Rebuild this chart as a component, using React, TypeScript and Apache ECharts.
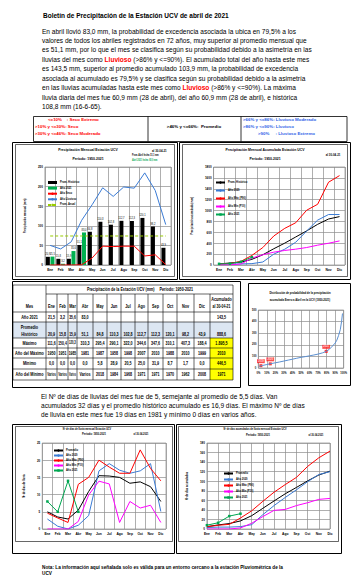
import React, { useEffect, useRef } from 'react';
import * as echarts from 'echarts';

const NARROW = "'Liberation Sans Narrow', 'Arial Narrow', 'Liberation Sans', sans-serif";
const SANS = "'Liberation Sans', Arial, Helvetica, sans-serif";

// ---------- data ----------
const months = ['Ene', 'Feb', 'Mar', 'Abr', 'May', 'Jun', 'Jul', 'Ago', 'Sep', 'Oct', 'Nov', 'Dic'];

// Chart A: monthly precipitation (mm)
const promHistorico = [20.9, 15.8, 15.9, 51.1, 84.8, 110.3, 102.8, 112.7, 112.3, 120.1, 98.2, 43.9];
const lluvia2021 = [21.5, 3.2, 35.6, 83.0];
const serieSecaA = [0, 0, 0, 0.5, 18, 48, 47, 48, 48, 23, 26, 1];
const serieLluviosaA = [50, 41, 59, 114, 154, 197, 175, 199, 196, 235, 190, 103];
const promAnualA = [74, 74, 74, 74, 74, 74, 74, 74, 74, 74, 74, 74];
const namesA = ['Prom. Histórico', 'Año 2021', 'Año Seco', 'Año Lluvioso', 'Prom. Anual'];

// Chart B: cumulative precipitation (mm)
const acumPromB = [20.9, 36.7, 52.6, 103.7, 188.5, 298.8, 401.6, 514.3, 626.6, 746.7, 844.9, 888.8];
const acum2020B = [18, 18, 20, 25, 55, 200, 290, 418, 624, 824, 927, 927];
const acumAltoB = [18, 30, 67, 176, 321, 533, 673, 776, 1006, 1115, 1521, 1642];
const acumBajoB = [0, 5, 18, 127, 188, 236, 267, 291, 321, 364, 400, 442];
const acum2021B = [21.5, 24.7, 60.3, 143.5];
const namesB = ['Prom. Histórico', 'Año 2020', 'Año Máx (P90)', 'Año Mín (P10)', 'Año 2021'];

// Chart C: rainy days per month
const diasPromC = [5.0, 3.5, 2.9, 5.5, 10.9, 15.5, 15.4, 15.0, 13.3, 13.7, 12.3, 8.0];
const dias2020C = [2.9, 0.8, 0, 1.1, 3.9, 16.9, 19, 17.1, 16.2, 16.9, 19, 5.1];
const diasAltoC = [4.6, 3.2, 1.9, 13, 15, 20, 18, 16.2, 16.2, 23, 17.6, 14];
const diasBajoC = [0, 0, 0, 2.2, 9.9, 13.9, 13.1, 1.9, 8, 6.1, 6.9, 1.9];
const dias2021C = [8, 5, 14, 5];
const namesC = ['Promedio', 'Año 2020', 'Año Máx (P90)', 'Año Mín (P10)', 'Año 2021'];

// Chart D: cumulative rainy days
const diasAcumPromD = [5, 8.5, 11.4, 16.9, 27.8, 43.3, 58.7, 73.7, 87, 100.7, 113, 121];
const diasAcum2020D = [3, 4, 4, 5, 9, 30, 49, 66, 82, 99, 114, 120];
const diasAcumAltoD = [4.6, 7.8, 9.7, 23, 38, 58, 77, 93, 108, 131, 149, 163];
const diasAcumBajoD = [0, 0, 0, 2.2, 12, 26, 39, 41, 49, 55, 62, 64];
const diasAcum2021D = [8, 13, 27, 32];
const namesD = ['Promedio', 'Año 2020', 'Año Máx (P90)', 'Año Mín (P10)', 'Año 2021'];

// Chart E: probability distribution, accumulated Jan-Apr
const probX = [1, 5, 10, 15, 20, 25, 30, 35, 40, 45, 50, 55, 60, 65, 70, 75, 79.5, 83, 87, 90, 92, 94, 96, 97.5, 98.6];
const probY = [15, 22, 30, 38, 45, 52, 60, 68, 76, 84, 92, 98, 105, 112, 120, 130, 143.5, 160, 190, 215, 240, 280, 330, 400, 470];
const puntosAnio = ['2019', '2020', '2021'];
const puntosX = [3, 14, 79.5];
const puntosY = [20, 36, 143.5];

// Table
const tabCols = ['Ene', 'Feb', 'Mar', 'Abr', 'May', 'Jun', 'Jul', 'Ago', 'Sep', 'Oct', 'Nov', 'Dic'];
const tabAnio2021 = ['21,5', '3,2', '35,6', '83,0', '', '', '', '', '', '', '', '', '143,5'];
const tabPromedio = ['20,9', '15,8', '15,9', '51,1', '84,8', '110,3', '102,8', '112,7', '112,3', '120,1', '98,2', '43,9', '888,6'];
const tabMaximo = ['111,6', '150,4', '120,3', '310,3', '295,4', '290,1', '322,0', '344,6', '347,6', '310,1', '407,3', '188,4', '1.895,5'];
const tabAnioMax = ['1950', '1951', '1985', '1981', '1987', '1958', '1998', '2007', '2010', '1988', '2010', '1999', '2010'];
const tabMinimo = ['0,0', '0,0', '0,0', '0,0', '5,8', '28,9', '20,5', '25,0', '31,9', '8,7', '1,7', '0,0', '446,5'];
const tabAnioMin = ['Varios', 'Varios', 'Varios', 'Varios', '2018', '1984', '1968', '1971', '1971', '1970', '1962', '2008', '1971'];

// Texts
const titulo = 'Boletín de Precipitación de la Estación UCV de abril de 2021';
const parrafo1 = [
  'En abril llovió 83,0 mm, la probabilidad de excedencia asociada la ubica en 79,5% a los',
  'valores de todos los abriles registrados en 72 años, muy superior al promedio mensual que',
  'es 51,1 mm, por lo que el mes se clasifica según su probabilidad debido a la asimetría en las',
  'lluvias del mes como {r|Lluvioso} (>86% y <=90%). El acumulado total del año hasta este mes',
  'es 143,5 mm, superior al promedio acumulado 103,9 mm, la probabilidad de excedencia',
  'asociada al acumulado es 79,5% y se clasifica según su probabilidad debido a la asimetría',
  'en las lluvias acumuladas hasta este mes como {r|Lluvioso} (>86% y <=90%). La máxima',
  'lluvia diaria del mes fue 60,9 mm (28 de abril), del año 60,9 mm (28 de abril), e histórica',
  '108,8 mm (16-6-65).',
];
const parrafo2 = [
  'El Nº de días de lluvias del mes fue de 5, semejante al promedio de 5,5 días. Van',
  'acumulados 32 días y el promedio histórico acumulado es 16,9 días. El máximo Nº de días',
  'de lluvia en este mes fue 19 días en 1981 y mínimo 0 días en varios años.',
];
const nota = [
  'Nota: La información aquí señalada solo es válida para un entorno cercano a la estación Pluviométrica de la',
  'UCV',
];
const clasifSeco = ['<=10%    : Seco Extremo', '>10% y <=30%: Seco', '>30% y <=46%: Seco Moderado'];
const clasifProm = '>46% y <=66%:  Promedio';
const clasifLluv = ['>66% y <=86%: Lluvioso Moderado', '>86% y <=90%: Lluvioso', '>90%     : Lluvioso Extremo'];

const fmt = (v: number) => v.toFixed(1).replace('.', ',');

// ---------- helpers ----------
const txt = (x: number, y: number, text: string, o: any = {}) => ({
  type: 'text',
  x,
  y,
  scaleX: o.sx ?? 1,
  silent: true,
  style: {
    text,
    fontSize: o.fs ?? 4.6,
    fontFamily: o.ff ?? NARROW,
    fontWeight: o.fw ?? 'bold',
    fill: o.fill ?? '#000',
    textAlign: o.align ?? 'center',
    textVerticalAlign: 'middle',
    rich: o.rich,
  },
});
// narrow (condensed) text
const ntxt = (x: number, y: number, text: string, o: any = {}) => txt(x, y, text, { sx: 0.8, ...o });
// text fitted inside a table cell of width w
const cell = (x: number, y: number, w: number, text: string, fs = 4.6) => {
  const est = text.length * fs * 0.56;
  const sx = Math.min(0.82, (w - 1.4) / est);
  return txt(x, y, text, { fs, sx });
};
const rect = (x: number, y: number, w: number, h: number, o: any = {}) => ({
  type: 'rect',
  silent: true,
  shape: { x, y, width: w, height: h },
  style: { fill: o.fill ?? 'none', stroke: o.stroke ?? '#000', lineWidth: o.lw ?? 1 },
});
const line = (x1: number, y1: number, x2: number, y2: number, lw = 0.6, color = '#000') => ({
  type: 'line',
  silent: true,
  shape: { x1, y1, x2, y2 },
  style: { stroke: color, lineWidth: lw },
});

const gridLine = { show: true, lineStyle: { color: '#8c8c8c', width: 0.7 } };
const gridBox = { show: true, borderColor: '#8c8c8c', borderWidth: 0.7 };
const catAxis = (boundaryGap = true) => ({
  type: 'category',
  data: months,
  boundaryGap,
  axisLine: { show: false },
  axisTick: { show: false },
  splitLine: { ...gridLine, interval: 0 },
  axisLabel: { interval: 0, fontSize: 3.3, fontWeight: 'bold', fontFamily: NARROW, color: '#000', margin: 3 },
});
const valAxis = (max: number, interval: number, name: string, nameGap: number) => ({
  type: 'value',
  min: 0,
  max,
  interval,
  axisLine: { show: false },
  axisTick: { show: false },
  splitLine: gridLine,
  axisLabel: { fontSize: 3, fontWeight: 'bold', fontFamily: NARROW, color: '#000', margin: 2, formatter: (v: number) => String(v) },
  name,
  nameLocation: 'middle',
  nameGap,
  nameTextStyle: { fontSize: 2.6, fontWeight: 'bold', fontFamily: NARROW, color: '#000' },
});
const legendStyle = (left: number, top: number, gap: number, data: any[]) => ({
  orient: 'vertical',
  left,
  top,
  padding: 0,
  itemWidth: 9,
  itemHeight: 3,
  itemGap: gap,
  selectedMode: false,
  textStyle: { fontSize: 2.6, fontWeight: 'bold', fontFamily: NARROW, color: '#000', padding: [0, 0, 0, -2] },
  data,
});
const lineSeries = (name: string, data: number[], color: string, extra: any = {}) => ({
  type: 'line',
  name,
  data,
  symbol: 'none',
  lineStyle: { color, width: 1 },
  itemStyle: { color },
  ...extra,
});
const green2021 = (name: string, data: number[]) =>
  lineSeries(name, data, '#00a651', { symbol: 'rect', symbolSize: 2.5, showSymbol: true });

// ---------- page (texts, boxes, table) ----------
function buildPage() {
  const g: any[] = [];
  g.push(txt(43, 15, titulo, { fs: 6.5, ff: SANS, align: 'left' }));
  parrafo1.forEach((l, i) =>
    g.push(
      txt(42, 31 + i * 9.45, l, {
        fs: 6.55,
        ff: SANS,
        fw: 'normal',
        align: 'left',
        rich: { r: { fill: '#ff0000', fontSize: 6.55, fontFamily: SANS, fontWeight: 'bold' } },
      })
    )
  );
  // classification box
  g.push(rect(33.5, 116.5, 313.5, 25, { lw: 0.8 }));
  g.push(line(148, 116.5, 148, 141.5, 0.8));
  g.push(line(241, 116.5, 241, 141.5, 0.8));
  const ry = [119.8, 126.5, 133.3];
  g.push(txt(48, ry[0], clasifSeco[0], { fs: 4.4, ff: SANS, fill: '#ff0000', align: 'left' }));
  g.push(txt(35, ry[1], clasifSeco[1], { fs: 4.4, ff: SANS, fill: '#ff0000', align: 'left' }));
  g.push(txt(35, ry[2], clasifSeco[2], { fs: 4.4, ff: SANS, fill: '#ff0000', align: 'left' }));
  g.push(txt(194, ry[1], clasifProm, { fs: 4.4, ff: SANS }));
  g.push(txt(243, ry[0], clasifLluv[0], { fs: 4.4, ff: SANS, fill: '#2f5fe8', align: 'left' }));
  g.push(txt(243, ry[1], clasifLluv[1], { fs: 4.4, ff: SANS, fill: '#2f5fe8', align: 'left' }));
  g.push(txt(258, ry[2], clasifLluv[2], { fs: 4.4, ff: SANS, fill: '#2f5fe8', align: 'left' }));

  // chart frames, top
  g.push(rect(12.5, 142.5, 165, 137));
  g.push(rect(15.5, 144.5, 159, 132, { lw: 0.6 }));
  g.push(rect(179.5, 142.5, 171, 137));
  g.push(rect(182.5, 144.5, 165, 132, { lw: 0.6 }));
  // table section frames
  g.push(rect(12.5, 281.5, 228, 106));
  g.push(rect(248.5, 283.5, 102, 102));
  // bottom frames
  g.push(rect(12.5, 424.5, 162, 129));
  g.push(rect(15.5, 426.5, 157, 115, { lw: 0.6 }));
  g.push(rect(176.5, 424.5, 165, 129));
  g.push(rect(178.5, 426.5, 160, 115, { lw: 0.6 }));

  // table
  const colX = [46, 57, 68, 77, 93, 107, 121, 135, 148, 163, 177, 194, 210, 233];
  const L = 13;
  const R = 233;
  g.push(rect(L, 322, R - L, 16, { fill: '#dce6f2', stroke: 'none', lw: 0 }));
  g.push(rect(210, 338, 23, 42, { fill: '#ffff00', stroke: 'none', lw: 0 }));
  [285, 312, 322, 338, 348, 358, 369, 380].forEach((y) => g.push(line(L, y, R, y)));
  g.push(line(46, 294, R, 294));
  g.push(line(L, 285, L, 380));
  g.push(line(46, 285, 46, 380));
  g.push(line(R, 285, R, 380));
  colX.slice(1, -1).forEach((x) => g.push(line(x, 294, x, 380)));
  g.push(ntxt(140, 289.7, 'Precipitación de la Estación UCV (mm)     Período: 1950-2021', { fs: 4.6 }));
  g.push(cell(29.5, 306, 33, 'Mes'));
  tabCols.forEach((m, i) => g.push(cell((colX[i] + colX[i + 1]) / 2, 306, colX[i + 1] - colX[i], m)));
  g.push(cell(221.5, 299, 23, 'Acumulado'));
  g.push(cell(221.5, 306, 23, 'al 30-04-21'));
  const rows = [
    { label: ['Año 2021'], ly: [317], vy: 317, vals: tabAnio2021 },
    { label: ['Promedio', 'Histórico'], ly: [327, 334], vy: 334, vals: tabPromedio },
    { label: ['Máximo'], ly: [343], vy: 343, vals: tabMaximo },
    { label: ['Año del Máximo'], ly: [353.2], vy: 353.2, vals: tabAnioMax },
    { label: ['Mínimo'], ly: [363.7], vy: 363.7, vals: tabMinimo },
    { label: ['Año del Mínimo'], ly: [374.6], vy: 374.6, vals: tabAnioMin },
  ];
  rows.forEach((r) => {
    r.label.forEach((t, k) => g.push(cell(29.5, r.ly[k], 33, t)));
    r.vals.forEach((v, i) => {
      if (v) g.push(cell((colX[i] + colX[i + 1]) / 2, r.vy, colX[i + 1] - colX[i], v, 4.5));
    });
  });

  parrafo2.forEach((l, i) => g.push(txt(41, 396 + i * 9.3, l, { fs: 6.55, ff: SANS, fw: 'normal', align: 'left' })));
  g.push(txt(42, 567, nota[0], { fs: 4.7, ff: SANS, align: 'left' }));
  g.push(txt(42, 573.5, nota[1], { fs: 4.7, ff: SANS, align: 'left' }));
  return { animation: false, graphic: g };
}

// ---------- charts ----------
const barLabel = { show: true, position: 'top', distance: 1, fontSize: 2.6, fontFamily: NARROW, color: '#000', formatter: (p: any) => fmt(p.value) };

const optA = {
  animation: false,
  grid: { left: 10, right: 3, top: 23, bottom: 11, ...gridBox },
  xAxis: catAxis(true),
  yAxis: valAxis(250, 50, 'Precipitación mensual (mm)', 6),
  legend: legendStyle(31, 37, 2.6, [
    { name: namesA[0], icon: 'rect' },
    { name: namesA[1], icon: 'rect' },
    namesA[2],
    namesA[3],
    namesA[4],
  ]),
  graphic: [
    ntxt(72, 5, 'Precipitación Mensual Estación UCV', { fs: 4.3 }),
    ntxt(72, 14, 'Período: 1950-2021', { fs: 4.3 }),
    ntxt(136, 7, 'al 30-04-21', { fs: 3.6, align: 'left' }),
    ntxt(116, 10.5, 'Prom. Abril fecha: 51,1 mm', { fs: 2.6, align: 'left' }),
    ntxt(116, 15.5, 'Abril 2021 fecha: 83,0 mm', { fs: 2.6, align: 'left', fill: '#00a651' }),
  ],
  series: [
    { type: 'bar', name: namesA[0], data: promHistorico, barWidth: 4, barGap: '15%', itemStyle: { color: '#000' }, label: barLabel },
    { type: 'bar', name: namesA[1], data: lluvia2021, barWidth: 4, itemStyle: { color: '#00b050' }, label: barLabel },
    lineSeries(namesA[2], serieSecaA, '#ff0000'),
    lineSeries(namesA[3], serieLluviosaA, '#3a7bd5'),
    lineSeries(namesA[4], promAnualA, '#99cc00', { lineStyle: { color: '#99cc00', width: 1, type: [3, 2] } }),
  ],
};

const optB = {
  animation: false,
  grid: { left: 11, right: 3, top: 23, bottom: 11, ...gridBox },
  xAxis: catAxis(true),
  yAxis: valAxis(1800, 200, 'Precipitación acumulada (mm)', 8),
  legend: legendStyle(32, 37, 5, namesB),
  graphic: [
    ntxt(82, 5, 'Precipitación Mensual Acumulada Estación UCV', { fs: 4.3 }),
    ntxt(82, 14, 'Período: 1950-2021', { fs: 4.3 }),
    ntxt(150, 11, 'al 30-04-21', { fs: 3.6 }),
  ],
  series: [
    lineSeries(namesB[0], acumPromB, '#000000'),
    lineSeries(namesB[1], acum2020B, '#3a7bd5'),
    lineSeries(namesB[2], acumAltoB, '#ff0000'),
    lineSeries(namesB[3], acumBajoB, '#ff00ff'),
    green2021(namesB[4], acum2021B),
  ],
};

const optC = {
  animation: false,
  grid: { left: 12, right: 6, top: 16, bottom: 12, ...gridBox },
  xAxis: catAxis(true),
  yAxis: valAxis(25, 5, 'Nº de días de lluvia', 6),
  legend: legendStyle(38, 22, 2, namesC),
  graphic: [
    ntxt(72, 2.3, 'Nº de días de lluvia mensual Estación UCV', { fs: 3 }),
    ntxt(79, 7.3, 'Período: 1950-2021', { fs: 3.3 }),
    ntxt(126, 7.3, 'al 30-04-2021', { fs: 3 }),
  ],
  series: [
    lineSeries(namesC[0], diasPromC, '#000000'),
    lineSeries(namesC[1], dias2020C, '#3a7bd5'),
    lineSeries(namesC[2], diasAltoC, '#ff0000'),
    lineSeries(namesC[3], diasBajoC, '#ff00ff'),
    green2021(namesC[4], dias2021C),
  ],
};

const optD = {
  animation: false,
  grid: { left: 17, right: 8, top: 16, bottom: 12, ...gridBox },
  xAxis: catAxis(false),
  yAxis: valAxis(180, 20, 'Nº de días acumulados', 8),
  legend: legendStyle(45, 45, 3, namesD),
  graphic: [
    ntxt(77, 2.3, 'Nº de días acumulados de lluvia mensual Estación UCV', { fs: 3 }),
    ntxt(80, 8, 'Período: 1950-2021', { fs: 3.3 }),
    ntxt(138, 8, 'al 30-04-2021', { fs: 3 }),
  ],
  series: [
    lineSeries(namesD[0], diasAcumPromD, '#000000'),
    lineSeries(namesD[1], diasAcum2020D, '#3a7bd5'),
    lineSeries(namesD[2], diasAcumAltoD, '#ff0000'),
    lineSeries(namesD[3], diasAcumBajoD, '#ff00ff'),
    green2021(namesD[4], diasAcum2021D),
  ],
};

const optE = {
  animation: false,
  grid: { left: 8, right: 5, top: 26, bottom: 17, ...gridBox },
  xAxis: {
    type: 'value',
    min: 0,
    max: 100,
    interval: 10,
    axisLine: { show: false },
    axisTick: { show: false },
    splitLine: gridLine,
    axisLabel: { fontSize: 2.6, fontWeight: 'bold', fontFamily: NARROW, color: '#000', margin: 4, formatter: '{value}%' },
  },
  yAxis: {
    type: 'value',
    min: 0,
    max: 500,
    interval: 100,
    axisLine: { show: false },
    axisTick: { show: false },
    splitLine: gridLine,
    axisLabel: { fontSize: 2.6, fontWeight: 'bold', fontFamily: NARROW, color: '#000', margin: 2 },
  },
  graphic: [
    ntxt(51, 9, 'Distribución de probabilidad de la precipitación', { fs: 3.4 }),
    ntxt(51, 16, 'acumulada Enero a Abril en la UCV (1950-2021)', { fs: 3.4 }),
  ],
  series: [
    {
      type: 'line',
      data: probX.map((x, i) => [x, probY[i]]),
      symbol: 'none',
      lineStyle: { color: '#5b8fd0', width: 1 },
    },
    {
      type: 'scatter',
      data: puntosX.map((x, i) => [x, puntosY[i], puntosAnio[i]]),
      symbol: 'rect',
      symbolSize: 3,
      itemStyle: { color: '#ff0000' },
      label: {
        show: true,
        position: 'top',
        distance: 1,
        formatter: (p: any) => p.data[2],
        fontSize: 2.6,
        fontFamily: NARROW,
        fontWeight: 'bold',
        color: '#ffffff',
        backgroundColor: '#ff2020',
        padding: [0.5, 1],
      },
    },
  ],
};

function EChart({ style, option }: { style: any; option: any }) {
  const ref = useRef<HTMLDivElement>(null);
  useEffect(() => {
    const c = echarts.init(ref.current as HTMLDivElement, undefined, { renderer: 'svg' });
    c.setOption(option);
    return () => c.dispose();
  }, []);
  return <div ref={ref} style={{ position: 'absolute', ...style }} />;
}

export default function App() {
  return (
    <div style={{ position: 'fixed', left: 0, top: 0, width: 356, height: 585, background: '#fff', overflow: 'hidden' }}>
      <EChart style={{ left: 0, top: 0, width: 356, height: 585 }} option={buildPage()} />
      <EChart style={{ left: 16, top: 144, width: 158, height: 132 }} option={optA} />
      <EChart style={{ left: 183, top: 144, width: 165, height: 132 }} option={optB} />
      <EChart style={{ left: 249, top: 284, width: 101, height: 101 }} option={optE} />
      <EChart style={{ left: 15, top: 427, width: 157, height: 114 }} option={optC} />
      <EChart style={{ left: 178, top: 427, width: 160, height: 114 }} option={optD} />
    </div>
  );
}
